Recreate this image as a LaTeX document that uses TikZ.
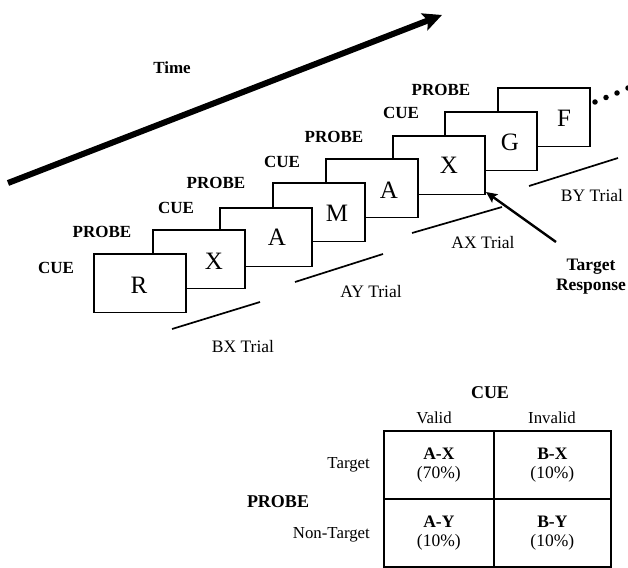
\documentclass[tikz,border=0pt]{standalone}
\usepackage{fontspec}
\setmainfont{Liberation Serif}
\usetikzlibrary{arrows.meta}
\begin{document}
\begin{tikzpicture}[x=1pt,y=-1pt,
  stimbox/.style={draw,line width=1.7pt,fill=white,minimum width=92pt,minimum height=58.5pt,inner sep=0pt,anchor=north west},
  letter/.style={font=\fontsize{25}{25}\selectfont,inner sep=0pt},
  lbl/.style={font=\fontsize{17}{17}\selectfont\bfseries,inner sep=0pt},
  trial/.style={font=\fontsize{17.5}{17.5}\selectfont,inner sep=0pt},
  tline/.style={line width=1.7pt},
  tabtxt/.style={font=\fontsize{16.8}{16.8}\selectfont,inner sep=0pt},
  cell/.style={draw,line width=1.7pt,anchor=north west,minimum width=110pt,minimum height=68pt,inner sep=0pt,align=center,font=\fontsize{17.5}{19}\selectfont},
  dot/.style={circle,fill=black,inner sep=0pt,minimum size=5.5pt}
]
\useasboundingbox (0,0) rectangle (628,567);
% time arrow
\coordinate (ts) at (8,183);
\coordinate (te) at (442,15);
\draw[line width=6pt,-{Stealth[length=19pt,width=18pt,inset=4pt]}] (ts) -- (te);
\node[lbl] (time) at (172,68) {Time};
% boxes (back to front)
\node[stimbox] (b8) at (497,87) {};
\node[stimbox] (b7) at (444,111) {};
\node[stimbox] (b6) at (392,135) {};
\node[stimbox] (b5) at (325,158) {};
\node[stimbox] (b4) at (272,182) {};
\node[stimbox] (b3) at (219,207) {};
\node[stimbox] (b2) at (152,229) {};
\node[stimbox] (b1) at (93,253) {};
% letters
\node[letter] (l1) at (139,285) {R};
\node[letter] (l2) at (214,261) {X};
\node[letter] (l3) at (277,237) {A};
\node[letter] (l4) at (337,213) {M};
\node[letter] (l5) at (389,190) {A};
\node[letter] (l6) at (449,165) {X};
\node[letter] (l7) at (510,142) {G};
\node[letter] (l8) at (564,118) {F};
% cue / probe labels
\node[lbl] (c1) at (56,268) {CUE};
\node[lbl] (p1) at (102,232) {PROBE};
\node[lbl] (c2) at (176,208) {CUE};
\node[lbl] (p2) at (216,183) {PROBE};
\node[lbl] (c3) at (282,162) {CUE};
\node[lbl] (p3) at (334,137) {PROBE};
\node[lbl] (c4) at (401,113) {CUE};
\node[lbl] (p4) at (441,90) {PROBE};
% dots
\node[dot] (d1) at (595,102) {};
\node[dot] (d2) at (606,97.5) {};
\node[dot] (d3) at (617,93) {};
\node[dot] (d4) at (628,88) {};
% trial lines
\coordinate (bx1) at (172,329); \coordinate (bx2) at (260,302);
\coordinate (ay1) at (295,282); \coordinate (ay2) at (383,254);
\coordinate (ax1) at (412,233); \coordinate (ax2) at (502,207);
\coordinate (by1) at (529,186); \coordinate (by2) at (618,158);
\draw[tline] (bx1) -- (bx2);
\draw[tline] (ay1) -- (ay2);
\draw[tline] (ax1) -- (ax2);
\draw[tline] (by1) -- (by2);
\node[trial] (bxt) at (243,347) {BX Trial};
\node[trial] (ayt) at (371,292) {AY Trial};
\node[trial] (axt) at (483,243) {AX Trial};
\node[trial] (byt) at (592,196) {BY Trial};
% target response
\node[lbl,align=center,font=\fontsize{17.5}{20}\selectfont\bfseries] (tr) at (591,277) {Target\\Response};
\coordinate (ta) at (556,242);
\coordinate (tt) at (486,192);
\draw[line width=2.4pt,-{Stealth[length=11pt,width=10pt,inset=2pt]}] (ta) -- (tt);
% table
\node[lbl,font=\fontsize{18}{18}\selectfont\bfseries] (cue) at (490,393) {CUE};
\node[tabtxt] (valid) at (434,418) {Valid};
\node[tabtxt] (invalid) at (552,418) {Invalid};
\node[cell] (ax) at (383,430) {\textbf{A-X}\\(70\%)};
\node[cell,minimum width=117pt] (bxc) at (493,430) {\textbf{B-X}\\(10\%)};
\node[cell] (ay) at (383,498) {\textbf{A-Y}\\(10\%)};
\node[cell,minimum width=117pt] (by) at (493,498) {\textbf{B-Y}\\(10\%)};
\node[tabtxt,anchor=east] (target) at (370,465) {Target};
\node[tabtxt,anchor=east] (nontarget) at (370,535) {Non-Target};
\node[lbl,font=\fontsize{18}{18}\selectfont\bfseries] (probe) at (278,502) {PROBE};
\end{tikzpicture}
\end{document}
